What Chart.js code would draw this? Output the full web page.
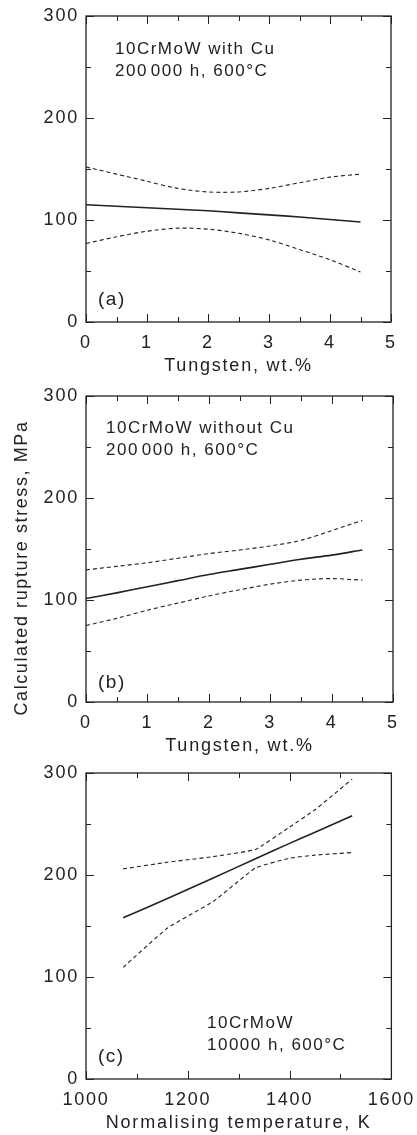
<!DOCTYPE html>
<html>
<head>
<meta charset="utf-8">
<script src="https://cdn.jsdelivr.net/npm/chart.js@4.4.1/dist/chart.umd.min.js"></script>
<style>
    html, body { margin: 0; padding: 0; background: #fff; }
    body { width: 417px; height: 1135px; position: relative; overflow: hidden; }
    .panel { position: absolute; left: 0; width: 417px; height: 380px; }
</style>
</head>
<body>
<div class="panel" style="top:0"><canvas id="chartA"></canvas></div>
<div class="panel" style="top:380px"><canvas id="chartB"></canvas></div>
<div class="panel" style="top:757px"><canvas id="chartC"></canvas></div>
<script>
// (a) 10CrMoW with Cu, 200000 h, 600°C
const tungstenA = [0, 0.5, 1, 1.5, 2, 2.5, 3, 3.5, 4, 4.5];
const meanA  = [115, 113.5, 112, 110.5, 109, 107, 105, 103, 100.5, 98];
const upperA = [152, 145, 138, 131, 127.5, 127.5, 131, 136.5, 142, 145];
const lowerA = [77, 83.5, 89, 92, 91, 87, 80.5, 71, 61, 49];

// (b) 10CrMoW without Cu, 200000 h, 600°C
const tungstenB = [0, 0.5, 1, 1.5, 2, 2.5, 3, 3.5, 4, 4.5];
const meanB  = [101.5, 107, 113, 119, 125, 130, 135, 140, 144, 149];
const upperB = [129.5, 133, 136.5, 141, 145.5, 149, 153, 158.5, 168, 178];
const lowerB = [75, 82, 90, 97, 104, 110, 115.5, 119.5, 121, 119.5];

// (c) 10CrMoW, 10000 h, 600°C
const tempC  = [1073, 1160, 1250, 1333, 1400, 1450, 1523];
const meanC  = [158, 177, 197, 216, 231, 242, 258];
const upperC = [206, 212.5, 218, 225, 247, 264, 294];
const lowerC = [109.5, 148, 174, 207, 216.5, 219.5, 222];

const INK = '#222';
const FONT = 'Liberation Sans, Arial, sans-serif';

// frame + inward tick marks on all four sides, plus the free text
const framePlugin = {
    id: 'frame',
    beforeUpdate(chart) { chart.ctx.letterSpacing = '1.8px'; },
    beforeDraw(chart) { chart.ctx.letterSpacing = '1.8px'; },
    afterDraw(chart, args, opts) {
        const ctx = chart.ctx;
        const a = chart.chartArea;
        const xs = chart.scales.x, ys = chart.scales.y;
        ctx.save();
        ctx.strokeStyle = INK;
        ctx.lineWidth = 1.3;
        ctx.strokeRect(a.left, a.top, a.right - a.left, a.bottom - a.top);
        ctx.lineWidth = 1;
        ctx.beginPath();
        xs.ticks.forEach(t => {
            const px = Math.round(xs.getPixelForValue(t.value)) + 0.5;
            const len = t.label !== '' ? 8 : 5;
            ctx.moveTo(px, a.bottom); ctx.lineTo(px, a.bottom - len);
            ctx.moveTo(px, a.top); ctx.lineTo(px, a.top + len);
        });
        ys.ticks.forEach(t => {
            const py = Math.round(ys.getPixelForValue(t.value)) + 0.5;
            const len = t.label !== '' ? 8 : 5;
            ctx.moveTo(a.left, py); ctx.lineTo(a.left + len, py);
            ctx.moveTo(a.right, py); ctx.lineTo(a.right - len, py);
        });
        ctx.stroke();

        ctx.fillStyle = INK;
        ctx.letterSpacing = '1.5px';
        ctx.textAlign = 'left';
        ctx.textBaseline = 'alphabetic';
        (opts.notes || []).forEach(n => {
            ctx.font = (n.size || 17) + 'px ' + FONT;
            ctx.fillText(n.text, a.left + n.dx, a.top + n.dy);
        });
        if (opts.yTitle) {
            ctx.save();
            ctx.font = '18px ' + FONT;
            ctx.letterSpacing = '1.6px';
            ctx.textAlign = 'center';
            ctx.textBaseline = 'middle';
            ctx.translate(22, a.top + (a.bottom - a.top) / 2 + 19);
            ctx.rotate(-Math.PI / 2);
            ctx.fillText(opts.yTitle, 0, 0);
            ctx.restore();
        }
        ctx.restore();
    }
};

function toPoints(xv, yv) {
    return xv.map((x, i) => ({ x: x, y: yv[i] }));
}

function makeChart(id, cfg) {
    const datasets = [
        { data: toPoints(cfg.xv, cfg.mean), borderColor: INK, borderWidth: 1.6 },
        { data: toPoints(cfg.xv, cfg.upper), borderColor: INK, borderWidth: 1.1, borderDash: [4, 3] },
        { data: toPoints(cfg.xv, cfg.lower), borderColor: INK, borderWidth: 1.1, borderDash: [4, 3] }
    ];
    datasets.forEach(d => {
        d.pointRadius = 0;
        d.fill = false;
        d.tension = cfg.tension;
    });

    return new Chart(document.getElementById(id), {
        type: 'line',
        data: { datasets: datasets },
        options: {
            responsive: true,
            maintainAspectRatio: false,
            animation: false,
            devicePixelRatio: 1,
            layout: { padding: { top: 16, right: cfg.right, bottom: 0, left: 0 } },
            plugins: {
                legend: { display: false },
                tooltip: { enabled: false },
                frame: { notes: cfg.notes, yTitle: cfg.yTitle }
            },
            scales: {
                x: {
                    type: 'linear',
                    min: cfg.xMin,
                    max: cfg.xMax,
                    grid: { display: false },
                    border: { display: false },
                    ticks: {
                        stepSize: cfg.xStep,
                        autoSkip: false,
                        maxRotation: 0,
                        padding: 2,
                        color: INK,
                        font: { family: FONT, size: 18 },
                        callback: v => (v % cfg.xLabelStep === 0 ? String(v) : '')
                    },
                    title: {
                        display: true,
                        text: cfg.xTitle,
                        color: INK,
                        font: { family: FONT, size: 18 },
                        padding: { top: 0, bottom: 3 }
                    },
                    afterFit: s => { s.height = 58; }
                },
                y: {
                    min: 0,
                    max: 300,
                    grid: { display: false },
                    border: { display: false },
                    ticks: {
                        stepSize: 50,
                        autoSkip: false,
                        padding: -1,
                        color: INK,
                        font: { family: FONT, size: 18 },
                        callback: v => (v % 100 === 0 ? String(v) : '')
                    },
                    afterFit: s => { s.width = 86; }
                }
            }
        },
        plugins: [framePlugin]
    });
}

makeChart('chartA', {
    xv: tungstenA, mean: meanA, upper: upperA, lower: lowerA,
    xMin: 0, xMax: 5, xStep: 0.5, xLabelStep: 1, tension: 0.3, right: 26,
    xTitle: 'Tungsten, wt.%',
    notes: [
        { text: '10CrMoW with Cu', dx: 29, dy: 38 },
        { text: '200\u200A000 h, 600°C', dx: 29, dy: 60 },
        { text: '(a)', dx: 12, dy: 289, size: 19 }
    ]
});

makeChart('chartB', {
    xv: tungstenB, mean: meanB, upper: upperB, lower: lowerB,
    xMin: 0, xMax: 5, xStep: 0.5, xLabelStep: 1, tension: 0.3, right: 24,
    xTitle: 'Tungsten, wt.%',
    yTitle: 'Calculated rupture stress, MPa',
    notes: [
        { text: '10CrMoW without Cu', dx: 20, dy: 37 },
        { text: '200\u200A000 h, 600°C', dx: 20, dy: 59 },
        { text: '(b)', dx: 12, dy: 292, size: 19 }
    ]
});

makeChart('chartC', {
    xv: tempC, mean: meanC, upper: upperC, lower: lowerC,
    xMin: 1000, xMax: 1600, xStep: 100, xLabelStep: 200, tension: 0.1, right: 25,
    xTitle: 'Normalising temperature, K',
    notes: [
        { text: '10CrMoW', dx: 121, dy: 255 },
        { text: '10000 h, 600°C', dx: 121, dy: 277 },
        { text: '(c)', dx: 12, dy: 289, size: 19 }
    ]
});
</script>
</body>
</html>
